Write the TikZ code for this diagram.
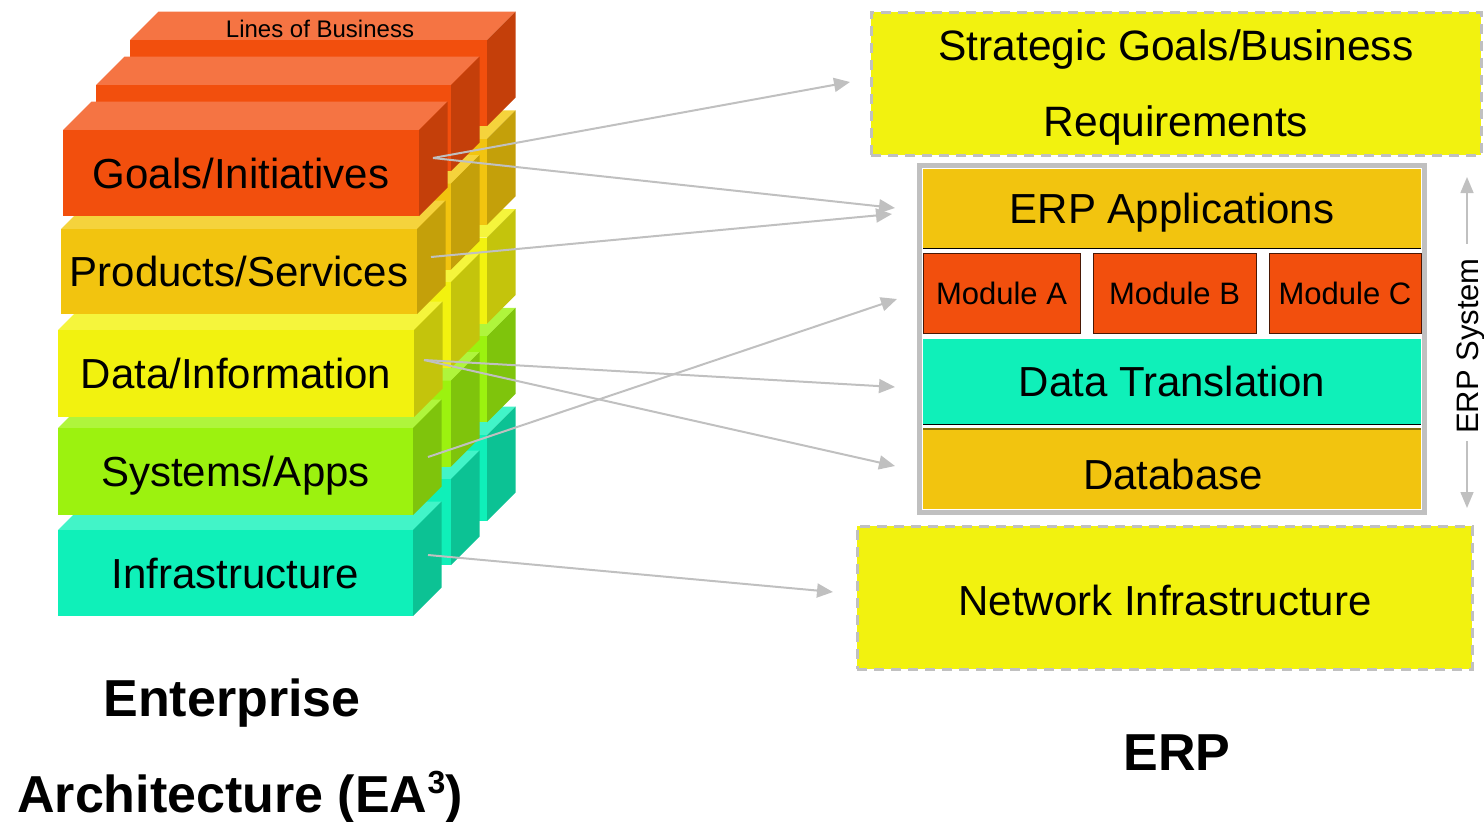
\documentclass[tikz,border=0pt]{standalone}
\usepackage{fontspec}
\setmainfont{Liberation Sans}
\usetikzlibrary{arrows.meta}
\definecolor{goF}{HTML}{F24F0D}\definecolor{goT}{HTML}{F57443}\definecolor{goR}{HTML}{C43F0A}
\definecolor{prF}{HTML}{F2C40F}\definecolor{prT}{HTML}{F5D33C}\definecolor{prR}{HTML}{C4A00A}
\definecolor{daF}{HTML}{F2F20F}\definecolor{daT}{HTML}{F5F53C}\definecolor{daR}{HTML}{C4C40C}
\definecolor{syF}{HTML}{9CF20F}\definecolor{syT}{HTML}{AFF53C}\definecolor{syR}{HTML}{7FC40C}
\definecolor{inF}{HTML}{0FF0B9}\definecolor{inT}{HTML}{42F4C8}\definecolor{inR}{HTML}{0CC294}
\definecolor{ylw}{HTML}{F2F20F}
\definecolor{gold}{HTML}{F2C40F}
\definecolor{modc}{HTML}{F24F0D}
\definecolor{teal}{HTML}{0FF0B9}
\definecolor{lgray}{HTML}{C0C0C0}
\newcommand{\layerbox}[7]{%
  \fill[#6T] (#2,#3) -- ++(28.5,-28.5) -- ({#4+28.5},{#3-28.5}) -- (#4,#3) -- cycle;
  \fill[#6R] (#4,#3) -- ++(28.5,-28.5) -- ({#4+28.5},{#5-28.5}) -- (#4,#5) -- cycle;
  \node[face, fill=#6F, minimum width={#4-#2}, minimum height={#5-#3}] (#1) at ({(#2+#4)/2},{(#3+#5)/2}) {#7};
}
\begin{document}
\begin{tikzpicture}[x=1pt,y=-1pt,
  face/.style={inner sep=0pt, outer sep=0pt, draw=none, big},
  big/.style={font=\fontsize{42}{50}\selectfont, text height=30.1pt, text depth=0pt},
  mid/.style={font=\fontsize{31}{37}\selectfont, text height=22.2pt, text depth=0pt},
  small/.style={font=\fontsize{24}{29}\selectfont, text height=17.2pt, text depth=0pt},
  title/.style={font=\fontsize{52}{60}\selectfont\bfseries, text height=37.4pt, text depth=0pt},
  dashbox/.style={fill=ylw, draw=lgray, line width=3pt, dash pattern=on 10pt off 7pt, inner sep=0pt},
  layer/.style={inner sep=0pt, outer sep=0pt},
  conn/.style={draw=lgray, line width=2pt, -{Triangle[length=16pt,width=14pt]}},
  sysline/.style={draw=lgray, line width=1.6pt, -{Triangle[length=16pt,width=13pt]}}
]
\useasboundingbox (0,0) rectangle (1484,822);

% ---- back column ----
\layerbox{bInfra}{130}{435}{487}{521}{in}{}
\layerbox{bSys}{130}{336.25}{487}{422.25}{sy}{}
\layerbox{bData}{130}{237.5}{487}{323.5}{da}{}
\layerbox{bProd}{130}{138.75}{487}{224.75}{pr}{}
\layerbox{bGoals}{130}{40}{487}{126}{go}{}
\node[small, inner sep=0pt] (lob) at (320,29) {Lines of Business};
% ---- middle column ----
\layerbox{mInfra}{96}{479}{451}{565}{in}{}
\layerbox{mSys}{96}{380.5}{451}{466.5}{sy}{}
\layerbox{mData}{96}{282}{451}{368}{da}{}
\layerbox{mProd}{96}{183.5}{451}{269.5}{pr}{}
\layerbox{mGoals}{96}{85}{451}{171}{go}{}
% ---- front column ----
\layerbox{infra}{58}{530}{413}{616}{in}{Infrastructure}
\layerbox{sys}{58}{428}{413}{515}{sy}{Systems/Apps}
\layerbox{data}{58}{330}{414}{417}{da}{Data/Information}
\layerbox{prod}{61}{229}{417}{314}{pr}{Products/Services}
\layerbox{goals}{63}{130}{419}{216}{go}{Goals/Initiatives}

% ---- right side ----
\node[dashbox, minimum width=610pt, minimum height=143pt] (strat) at (1176,83.5) {};
\node[font=\fontsize{42.5}{76}\selectfont, align=center, inner sep=0pt] (stratText) at (1176,88) {Strategic Goals/Business\\Requirements};

\node[draw=lgray, fill=white, line width=5pt, minimum width=505pt, minimum height=347pt, inner sep=0pt] (erp) at (1172,339) {};
\node[layer, big, fill=gold, minimum width=498pt, minimum height=79pt] (app) at (1172,208.5) {ERP Applications};
\draw[black, line width=1pt] (app.south west) -- (app.south east);
\node[layer, mid, fill=modc, draw=black!70!modc, line width=1pt, minimum width=157pt, minimum height=80pt] (modA) at (1001.5,293) {Module A};
\node[layer, mid, fill=modc, draw=black!70!modc, line width=1pt, minimum width=163pt, minimum height=80pt] (modB) at (1174.5,293) {Module B};
\node[layer, mid, fill=modc, draw=black!70!modc, line width=1pt, minimum width=152pt, minimum height=80pt] (modC) at (1345,293) {Module C};
\node[layer, big, fill=teal, minimum width=498pt, minimum height=85pt] (trans) at (1172,381.5) {Data Translation};
\draw[black, line width=1pt] (trans.south west) -- (trans.south east);
\node[layer, fill=gold, minimum width=498pt, minimum height=80pt] (db) at (1172,469) {};
\node[big, inner sep=0pt] (dbText) at (1173,474) {Database};
\draw[black!45!gold, line width=1.5pt] (db.north west) -- (db.north east);

\node[dashbox, minimum width=615pt, minimum height=143pt] (net) at (1164.5,597.5) {};
\node[big, inner sep=0pt] (netText) at (1165,600) {Network Infrastructure};

% ---- ERP System arrow ----
\node[mid, rotate=90, inner sep=0pt] (erpsys) at (1467,346) {ERP System};
\coordinate (sysTop) at (1467,177);
\coordinate (sysBot) at (1467,508);
\draw[sysline, shorten <=14pt] (erpsys.east) -- (sysTop);
\draw[sysline, shorten <=7pt] (erpsys.west) -- (sysBot);

% ---- connectors ----
\coordinate (pGoals) at (433,158);
\coordinate (pProd) at (431,257);
\coordinate (pData) at (424,360);
\coordinate (pSys) at (428,457);
\coordinate (pInfra) at (428,555);
\coordinate (tStrat) at (850,82);
\coordinate (tApp1) at (895,208);
\coordinate (tApp2) at (892,214);
\coordinate (tMod) at (897,299);
\coordinate (tTrans) at (895,387);
\coordinate (tDb) at (895,466);
\coordinate (tNet) at (833,592);
\draw[conn] (pGoals) -- (tStrat);
\draw[conn] (pGoals) -- (tApp1);
\draw[conn] (pProd) -- (tApp2);
\draw[conn] (pSys) -- (tMod);
\draw[conn] (pData) -- (tTrans);
\draw[conn] (pData) -- (tDb);
\draw[conn] (pInfra) -- (tNet);

% ---- titles ----
\node[title, inner sep=0pt] (ea1) at (232,698) {Enterprise};
\node[title, inner sep=0pt] (ea2) at (240,794) {Architecture (EA\raisebox{0.36em}{\fontsize{32}{32}\selectfont 3})};
\node[title, inner sep=0pt] (erpTitle) at (1177,752) {ERP};
\end{tikzpicture}
\end{document}
